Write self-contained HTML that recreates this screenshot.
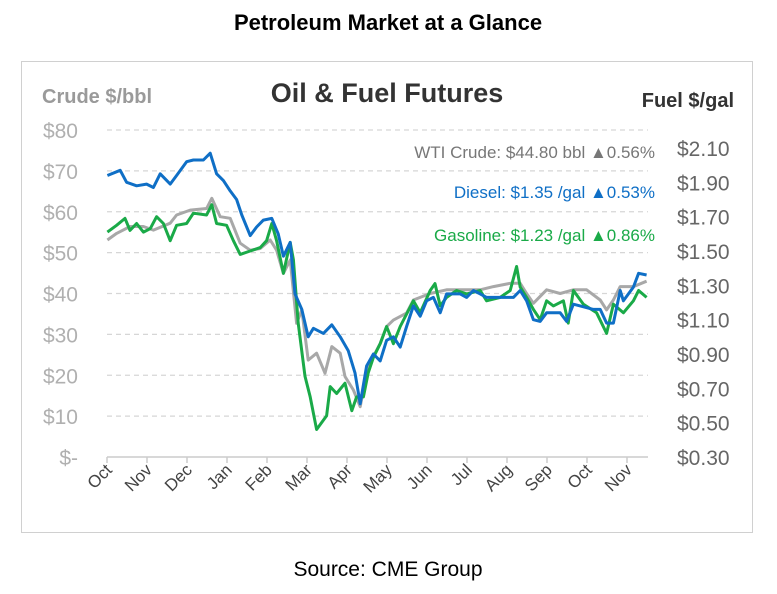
<!DOCTYPE html>
<html><head><meta charset="utf-8"><style>
body{margin:0;background:#fff;width:777px;height:589px;overflow:hidden;font-family:"Liberation Sans",sans-serif}
</style></head><body>
<svg width="777" height="589" xmlns="http://www.w3.org/2000/svg">
<text x="388" y="30" text-anchor="middle" font-family="Liberation Sans, sans-serif" font-weight="bold" font-size="22" fill="#000">Petroleum Market at a Glance</text>
<rect x="21.5" y="61.5" width="731" height="471" fill="#fff" stroke="#d0d0d0"/>
<text x="387" y="102" text-anchor="middle" font-weight="bold" font-size="27" fill="#333">Oil &amp; Fuel Futures</text>
<text x="42" y="103" font-weight="bold" font-size="20" fill="#9a9a9a">Crude $/bbl</text>
<text x="734" y="107" text-anchor="end" font-weight="bold" font-size="20" fill="#333">Fuel $/gal</text>
<g id="grid"></g><g id="axes"></g><g id="lines"></g>
<g font-size="17">
<text x="655" y="158" text-anchor="end" fill="#777">WTI Crude: $44.80 bbl  ▲0.56%</text>
<text x="655" y="198" text-anchor="end" fill="#0f6fc6">Diesel:  $1.35 /gal  ▲0.53%</text>
<text x="655" y="241" text-anchor="end" fill="#1aaa48">Gasoline:  $1.23 /gal  ▲0.86%</text>
</g>
<text x="388" y="576" text-anchor="middle" font-size="21" fill="#000">Source: CME Group</text>
</svg>
<script>
const months=["Oct","Nov","Dec","Jan","Feb","Mar","Apr","May","Jun","Jul","Aug","Sep","Oct","Nov"];
const crudeTicks=[0,10,20,30,40,50,60,70,80];
const crudeTickLabels=["$-","$10","$20","$30","$40","$50","$60","$70","$80"];
const fuelTicks=[0.3,0.5,0.7,0.9,1.1,1.3,1.5,1.7,1.9,2.1];
const wtiT=[.01,.24,.575,.91,1.16,1.58,1.74,2.08,2.49,2.62,2.83,3.08,3.33,3.58,3.83,4.08,4.24,4.41,4.58,4.74,4.87,5.03,5.24,5.45,5.62,5.83,5.95,6.16,6.33,6.49,6.66,6.83,6.99,7.16,7.49,7.66,8.08,8.49,8.91,9.33,9.66,10.08,10.33,10.49,10.66,10.99,11.33,11.66,11.99,12.33,12.49,12.66,12.83,13.16,13.49];
const wtiV=[53.1,54.7,56.4,56.4,55.5,57.2,59.2,60.4,60.8,63.3,58.8,58.4,52.3,50.6,51.0,53.1,50.6,44.9,48.2,32.7,36.0,23.7,25.4,20.5,27.0,25.4,19.7,16.4,12.3,20.5,24.6,27.8,31.9,33.5,35.2,38.4,40.0,40.9,40.9,40.9,41.7,42.5,42.5,40.0,37.6,40.9,40.0,40.9,40.9,38.4,36.0,38.4,41.7,41.7,43.0];
const dieselT=[.01,.33,.49,.74,.99,1.16,1.33,1.58,1.74,1.99,2.16,2.41,2.58,2.74,2.91,3.08,3.24,3.37,3.58,3.74,3.91,4.12,4.28,4.41,4.58,4.70,4.87,5.03,5.16,5.41,5.62,5.83,6.03,6.20,6.33,6.49,6.66,6.83,6.99,7.16,7.33,7.49,7.66,7.83,7.99,8.16,8.33,8.49,8.83,8.99,9.16,9.33,9.49,9.83,10.16,10.33,10.49,10.66,10.83,10.99,11.33,11.49,11.66,11.83,12.16,12.33,12.49,12.66,12.83,12.91,13.16,13.29,13.49];
const dieselV=[1.94,1.97,1.90,1.88,1.89,1.87,1.95,1.89,1.94,2.02,2.03,2.03,2.07,1.95,1.91,1.85,1.80,1.71,1.59,1.64,1.68,1.69,1.60,1.47,1.55,1.25,1.16,1.00,1.05,1.02,1.07,1.00,0.92,0.79,0.61,0.83,0.90,0.86,0.98,1.00,0.94,1.06,1.18,1.12,1.21,1.23,1.14,1.25,1.25,1.23,1.27,1.25,1.23,1.23,1.23,1.27,1.21,1.10,1.09,1.14,1.14,1.09,1.19,1.18,1.16,1.16,1.08,1.08,1.27,1.21,1.29,1.37,1.36];
const gasT=[.01,.24,.45,.575,.74,.91,1.08,1.24,1.41,1.58,1.74,1.99,2.16,2.49,2.62,2.74,2.99,3.16,3.33,3.58,3.83,3.99,4.12,4.24,4.41,4.58,4.66,4.78,4.95,5.08,5.24,5.49,5.58,5.74,5.95,6.12,6.24,6.41,6.53,6.66,6.83,6.99,7.16,7.33,7.66,7.83,8.08,8.2,8.33,8.49,8.74,8.99,9.33,9.49,9.83,10.08,10.24,10.33,10.49,10.66,10.83,10.99,11.16,11.41,11.53,11.66,11.91,12.24,12.49,12.66,12.91,13.16,13.29,13.49];
const gasV=[1.61,1.65,1.69,1.62,1.66,1.61,1.63,1.70,1.66,1.56,1.65,1.66,1.72,1.71,1.77,1.66,1.65,1.56,1.48,1.50,1.52,1.56,1.66,1.56,1.37,1.55,1.45,1.08,0.77,0.65,0.46,0.54,0.71,0.67,0.73,0.57,0.65,0.65,0.79,0.88,0.96,1.06,0.96,1.06,1.21,1.14,1.27,1.31,1.18,1.23,1.27,1.25,1.27,1.21,1.23,1.27,1.41,1.29,1.23,1.16,1.10,1.21,1.18,1.21,1.08,1.27,1.19,1.14,1.02,1.19,1.14,1.21,1.27,1.23];

const NS="http://www.w3.org/2000/svg";
const X0=107,MW=40,Y0=457,CPX=327/80;
const xS=m=>X0+m*MW;
const yC=v=>Y0-v*CPX;
const yF=v=>Y0-(v-0.3)/1.8*309;
function mk(tag,attrs,parent,txt){const e=document.createElementNS(NS,tag);for(const k in attrs)e.setAttribute(k,attrs[k]);if(txt!==undefined)e.textContent=txt;document.getElementById(parent).appendChild(e);return e;}
crudeTicks.forEach((v,i)=>{
  if(v>0){const g=mk('line',{x1:X0,x2:648,y1:yC(v),y2:yC(v),stroke:'#d6d6d6','stroke-width':1.3,'stroke-dasharray':'5,4'},'grid');
  
  }
  const t=mk('text',{x:78,y:yC(v)+8,'text-anchor':'end','font-size':21,fill:'#b0b0b0'},'axes',crudeTickLabels[i]);
  
  
});
fuelTicks.forEach(v=>{
  const t=mk('text',{x:677,y:yF(v)+8,'font-size':21,fill:'#666'},'axes','$'+v.toFixed(2));
  
  
});
const ax=mk('line',{x1:X0,x2:648,y1:Y0,y2:Y0,stroke:'#ccc','stroke-width':1.5},'axes');


months.forEach((m,i)=>{
  const x=xS(i);
  const tk=mk('line',{x1:x,x2:x,y1:Y0,y2:Y0+6,stroke:'#ccc','stroke-width':1.5},'axes');
  
  
  const t=mk('text',{x:x+6,y:Y0+14,'text-anchor':'end','font-size':17,fill:'#444',transform:`rotate(-45 ${x+6} ${Y0+14})`},'axes',m);
  
  
});
function series(T,V,yf,color,name){
  const d=T.map((t,i)=>(i?'L':'M')+xS(t).toFixed(1)+','+yf(V[i]).toFixed(1)).join('');
  const p=mk('path',{d:d,fill:'none',stroke:color,'stroke-width':3,'stroke-linejoin':'round'},'lines');
  
  
}
series(wtiT,wtiV,yC,'#a8a8a8','wti-crude-line');
series(gasT,gasV,yF,'#1aaa48','gasoline-line');
series(dieselT,dieselV,yF,'#0f6fc6','diesel-line');
</script>
</body></html>
